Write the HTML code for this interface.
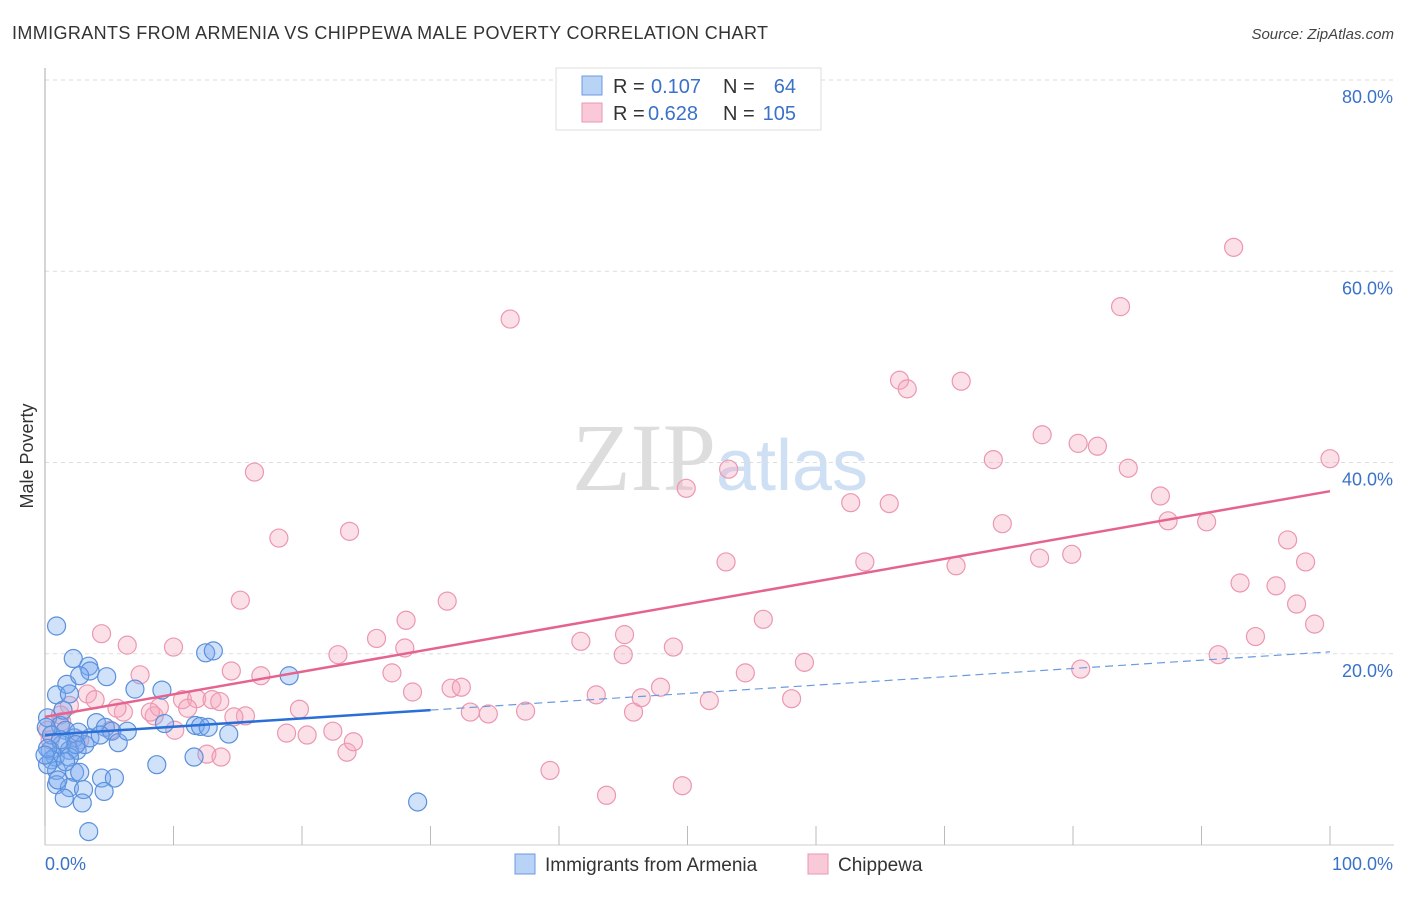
<!DOCTYPE html>
<html><head><meta charset="utf-8"><style>
body{margin:0;background:#fff;font-family:"Liberation Sans",sans-serif}
</style></head><body>
<svg width="1406" height="892" viewBox="0 0 1406 892" xmlns="http://www.w3.org/2000/svg" font-family="Liberation Sans, sans-serif">
<text x="12" y="39" font-size="18" fill="#333" textLength="756">IMMIGRANTS FROM ARMENIA VS CHIPPEWA MALE POVERTY CORRELATION CHART</text>
<text x="1394" y="39" font-size="15" fill="#444" text-anchor="end" font-style="italic">Source: ZipAtlas.com</text>
<text x="720" y="490" font-size="96" text-anchor="middle" fill="#ddd" font-family="Liberation Serif, serif">ZIP<tspan fill="#cfe0f5" font-family="Liberation Sans, sans-serif" font-size="72">atlas</tspan></text>
<g id="grid"></g>
<g id="axes"></g>
<g id="pts"></g>
<g id="lines"></g>
<text transform="translate(33,456) rotate(-90)" font-size="18" fill="#333" text-anchor="middle">Male Poverty</text>
<g>
<rect x="556" y="68" width="265" height="62" fill="#fff" stroke="#ddd"/>
<rect x="582" y="76" width="20" height="19" fill="#b8d3f5" stroke="#6a9be0"/>
<rect x="582" y="103" width="20" height="19" fill="#f9c9d7" stroke="#eb97b0"/>
<text x="613" y="93" font-size="20" fill="#333">R =</text>
<text x="651" y="93" font-size="20" fill="#3a72c8">0.107</text>
<text x="723" y="93" font-size="20" fill="#333">N =</text>
<text x="796" y="93" font-size="20" fill="#3a72c8" text-anchor="end">64</text>
<text x="613" y="120" font-size="20" fill="#333">R =</text>
<text x="648" y="120" font-size="20" fill="#3a72c8">0.628</text>
<text x="723" y="120" font-size="20" fill="#333">N =</text>
<text x="796" y="120" font-size="20" fill="#3a72c8" text-anchor="end">105</text>
</g>
<g>
<rect x="515" y="854" width="20" height="20" fill="#b8d3f5" stroke="#6a9be0"/>
<text x="545" y="871" font-size="19" fill="#333">Immigrants from Armenia</text>
<rect x="808" y="854" width="20" height="20" fill="#f9c9d7" stroke="#eb97b0"/>
<text x="838" y="871" font-size="19" fill="#333">Chippewa</text>
</g>
</svg>
<script>
const yTicks=[20,40,60,80];
const yTickLabels=["20.0%","40.0%","60.0%","80.0%"];
const xTicks=[0,10,20,30,40,50,60,70,80,90,100];
const blueX=[0.9,2.2,3.4,3.5,4.8,1.7,2.7,0.9,1.9,7.0,9.1,12.5,13.1,19.0,0.2,1.2,1.6,4.0,4.7,5.2,5.7,2.3,1.3,0.4,0.8,1.9,2.5,0.5,0.9,2.3,0.2,0.9,2.7,4.4,5.4,1.9,3.0,1.5,4.6,2.9,3.4,8.7,11.7,12.1,12.7,14.3,11.6,29.0,9.3,6.4,0.1,0.5,1.2,0.2,1.4,1.9,3.1,2.6,3.5,4.3,0,1.6,1.0,2.4];
const blueY=[22.9,19.5,18.7,18.2,17.6,16.8,17.7,15.7,15.8,16.3,16.2,20.1,20.3,17.7,13.3,12.5,12.0,12.8,12.3,11.9,10.7,11.2,10.5,9.9,9.2,9.9,9.9,8.9,7.8,7.6,8.4,6.3,7.6,7.0,7.0,6.0,5.8,4.9,5.6,4.4,1.4,8.4,12.5,12.4,12.3,11.6,9.2,4.5,12.7,11.9,12.3,11.5,11.0,10.1,14.1,9.2,10.5,11.8,11.2,11.5,9.4,8.7,6.8,10.5];
const pinkX=[0.2,1.3,3.3,4.4,6.4,7.4,6.1,5.6,10.0,8.5,10.7,11.8,13.0,13.6,14.5,15.2,16.3,16.8,15.6,14.7,12.6,13.7,11.1,18.2,19.8,18.8,20.4,22.4,22.8,23.7,23.5,24.0,25.8,27.0,28.1,28.0,31.3,28.6,31.6,32.4,33.1,34.5,36.2,37.4,39.3,41.7,42.9,43.7,45.1,45.0,45.8,46.4,47.9,48.9,49.6,49.9,51.7,53.0,53.2,54.5,55.9,58.1,59.1,62.7,63.8,65.7,66.5,67.1,70.9,71.3,73.8,74.5,77.4,77.6,79.9,80.4,80.6,81.9,84.3,83.7,86.8,87.4,90.4,91.3,92.5,93.0,94.2,95.8,96.7,97.4,98.1,98.8,100,8.9,2.7,3.9,1.9,1.2,5.1,8.2,10.1,0.4];
const pinkY=[12.0,12.9,15.8,22.1,20.9,17.8,13.9,14.3,20.7,13.5,15.2,15.3,15.2,15.0,18.2,25.6,39.0,17.7,13.5,13.4,9.5,9.2,14.3,32.1,14.2,11.7,11.5,11.9,19.9,32.8,9.7,10.8,21.6,18.0,23.5,20.6,25.5,16.0,16.4,16.5,13.9,13.7,55.0,14.0,7.8,21.3,15.7,5.2,22.0,19.9,13.9,15.4,16.5,20.7,6.2,37.3,15.1,29.6,39.3,18.0,23.6,15.3,19.1,35.8,29.6,35.7,48.6,47.7,29.2,48.5,40.3,33.6,30.0,42.9,30.4,42.0,18.4,41.7,39.4,56.3,36.5,33.9,33.8,19.9,62.5,27.4,21.8,27.1,31.9,25.2,29.6,23.1,40.4,14.4,11.0,15.2,14.6,13.6,12.0,13.9,12.0,11.0];
const blueTrend=[11.5,20.2]; // y at x=0 and x=100
const blueSolidEnd=30;
const pinkTrend=[13.4,37.0];

const NS="http://www.w3.org/2000/svg";
const X=v=>45+v*12.85, Y=v=>845-v*9.5625;
function mk(tag,attrs,parent){const e=document.createElementNS(NS,tag);for(const k in attrs)e.setAttribute(k,attrs[k]);parent.appendChild(e);return e;}
const grid=document.getElementById('grid'),axes=document.getElementById('axes'),pts=document.getElementById('pts'),lines=document.getElementById('lines');
yTicks.forEach((t,i)=>{
  const l=mk('line',{x1:45,x2:1394,y1:Y(t),y2:Y(t),stroke:'#ddd','stroke-dasharray':'4,4'},grid);
  
  
  const tx=mk('text',{x:1393,y:Y(t)+23,'font-size':18,fill:'#3a72c8','text-anchor':'end'},axes);
  tx.textContent=yTickLabels[i];
  
  
});
mk('line',{x1:45,x2:45,y1:68,y2:845,stroke:'#aaa'},axes);
mk('line',{x1:45,x2:1394,y1:845,y2:845,stroke:'#ccc'},axes);
xTicks.forEach(t=>{
  const l=mk('line',{x1:X(t),x2:X(t),y1:826,y2:845,stroke:'#bbb'},axes);
  
  
});
const xl0=mk('text',{x:45,y:870,'font-size':18,fill:'#3a72c8'},axes);xl0.textContent='0.0%';


const xl1=mk('text',{x:1393,y:870,'font-size':18,fill:'#3a72c8','text-anchor':'end'},axes);xl1.textContent='100.0%';


pinkX.forEach((x,i)=>{
  const c=mk('circle',{cx:X(x),cy:Y(pinkY[i]),r:9,fill:'rgba(245,165,190,0.35)',stroke:'#eb97b0','stroke-width':1.2},pts);
  
  
});
blueX.forEach((x,i)=>{
  const c=mk('circle',{cx:X(x),cy:Y(blueY[i]),r:9,fill:'rgba(120,170,240,0.35)',stroke:'#5a90dc','stroke-width':1.2},pts);
  
  
});
const by=x=>blueTrend[0]+(blueTrend[1]-blueTrend[0])*x/100;
const b1=mk('line',{x1:X(0),y1:Y(by(0)),x2:X(blueSolidEnd),y2:Y(by(blueSolidEnd)),stroke:'#2a6fd6','stroke-width':2.5},lines);


const b2=mk('line',{x1:X(blueSolidEnd),y1:Y(by(blueSolidEnd)),x2:X(100),y2:Y(by(100)),stroke:'#6a9be0','stroke-width':1.2,'stroke-dasharray':'8,5'},lines);


const p1=mk('line',{x1:X(0),y1:Y(pinkTrend[0]),x2:X(100),y2:Y(pinkTrend[1]),stroke:'#e5648f','stroke-width':2.5},lines);


</script>
</body></html>
